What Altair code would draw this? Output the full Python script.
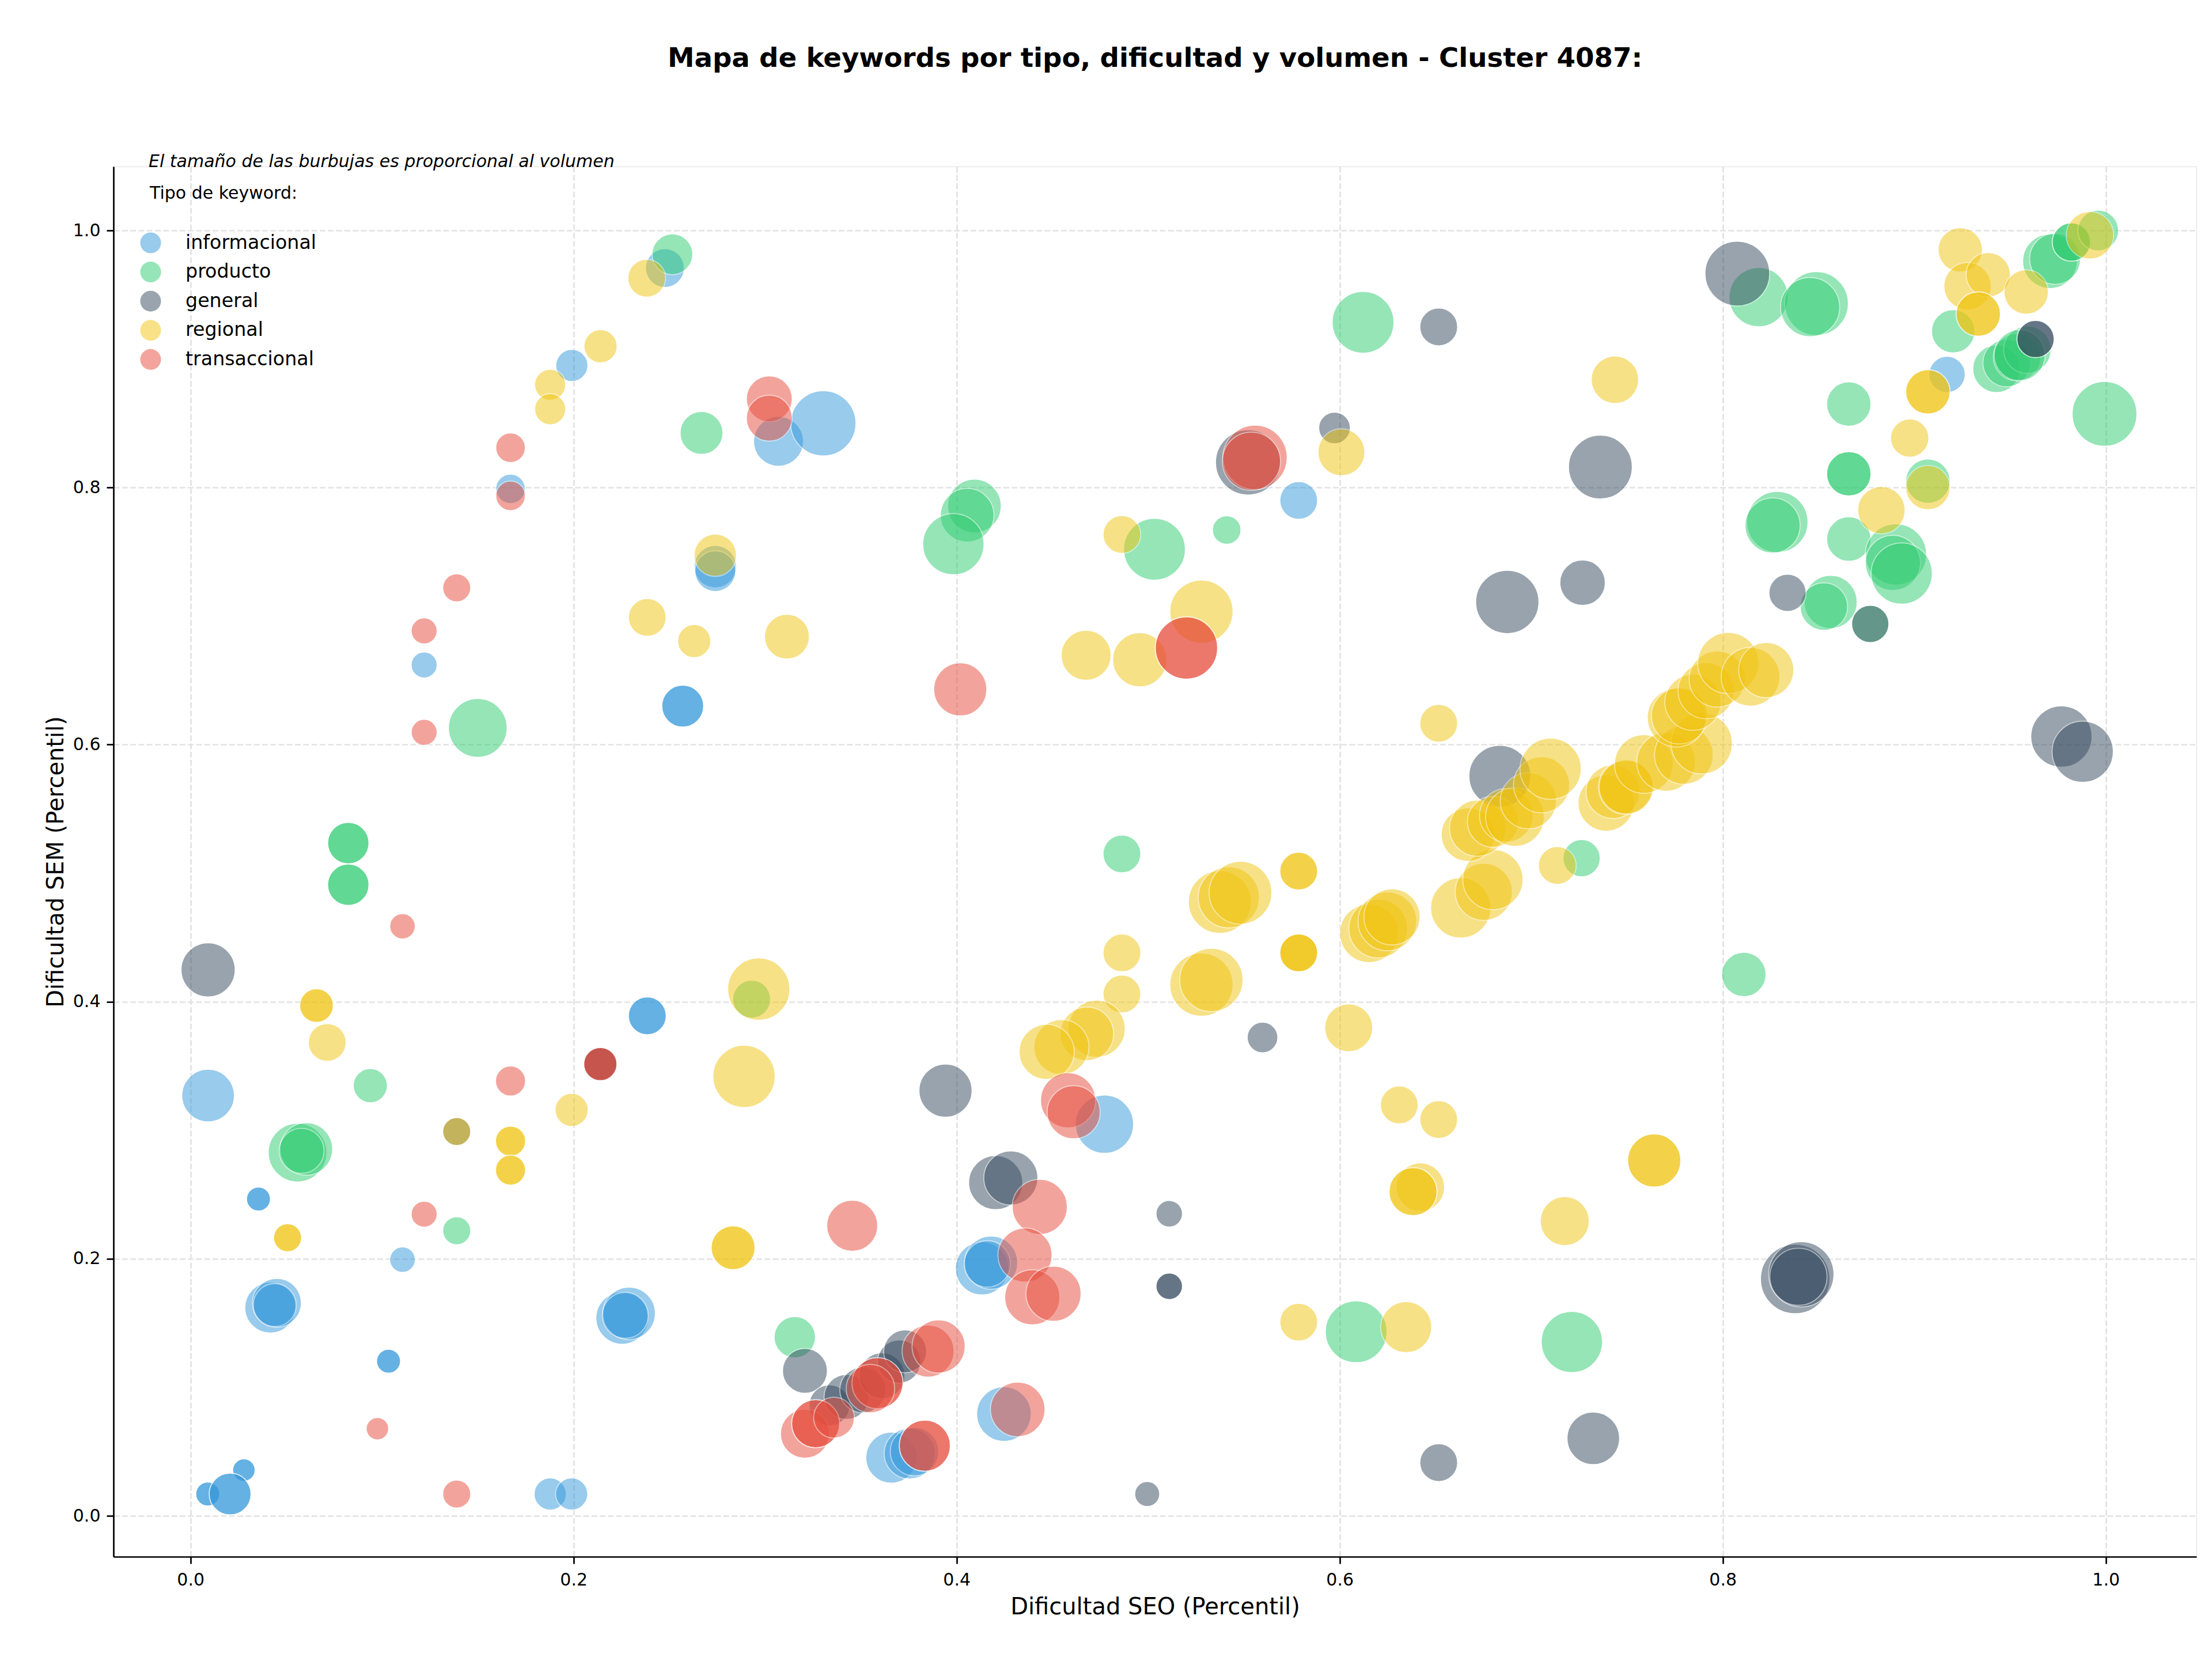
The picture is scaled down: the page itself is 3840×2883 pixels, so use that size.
import altair as alt
import pandas as pd

FONT = "DejaVu Sans"

TITULO = "Mapa de keywords por tipo, dificultad y volumen - Cluster 4087:"
NOTA = "El tamaño de las burbujas es proporcional al volumen"
EJE_X = "Dificultad SEO (Percentil)"
EJE_Y = "Dificultad SEM (Percentil)"
TICKS = [0.0, 0.2, 0.4, 0.6, 0.8, 1.0]

TIPOS = ["informacional", "producto", "general", "regional", "transaccional"]
COLORES = ["#3498db", "#2ecc71", "#34495e", "#f1c40f", "#e74c3c"]

# --- informacional ---
info_seo = [0.2477, 0.1991, 0.1671, 0.122, 0.307, 0.3304, 0.274, 0.274, 0.257, 0.257, 0.5786,
            0.2385, 0.2385, 0.0092, 0.0355, 0.0355, 0.1107, 0.0417, 0.0451, 0.044, 0.2254, 0.229, 0.227,
            0.1034, 0.1034, 0.0279, 0.0279, 0.009, 0.009, 0.0207, 0.0207, 0.1878, 0.199,
            0.4772, 0.4132, 0.418, 0.416, 0.4247, 0.3659, 0.3755, 0.378, 0.9171]
info_sem = [0.9708, 0.895, 0.799, 0.662, 0.836, 0.850, 0.7385, 0.735, 0.630, 0.630, 0.790,
            0.389, 0.389, 0.327, 0.2465, 0.2465, 0.1993, 0.162, 0.1657, 0.164, 0.1539, 0.1575, 0.156,
            0.1203, 0.1203, 0.0356, 0.0356, 0.017, 0.017, 0.017, 0.017, 0.017, 0.017,
            0.3047, 0.1925, 0.197, 0.196, 0.0792, 0.0453, 0.0485, 0.050, 0.888]
info_vol = [289, 198, 168, 130, 480, 819, 344, 320, 336, 336, 274,
            274, 274, 530, 110, 110, 125, 500, 461, 353, 530, 530, 405,
            110, 110, 97, 97, 110, 110, 336, 336, 198, 198,
            650, 541, 541, 414, 572, 500, 500, 451, 252]

# --- producto ---
prod_seo = [0.2516, 0.2668, 0.150, 0.0824, 0.0824, 0.0824, 0.0824, 0.0939, 0.293, 0.139, 0.0559, 0.0605, 0.058,
            0.6122, 0.541, 0.5033, 0.4093, 0.4055, 0.3983, 0.4863, 0.3155, 0.6086,
            0.8187, 0.8489, 0.8456, 0.8658, 0.8658, 0.8658, 0.9071, 0.8285, 0.826, 0.8658, 0.8904, 0.8888,
            0.8934, 0.8563, 0.8528, 0.877,
            0.9203, 0.9429, 0.9482, 0.9536, 0.959, 0.955, 0.9708, 0.9735, 0.982, 0.982, 0.996, 0.9993,
            0.7263, 0.811, 0.7212]
prod_sem = [0.9815, 0.8425, 0.613, 0.5234, 0.5234, 0.491, 0.491, 0.3347, 0.402, 0.2218, 0.2826, 0.2854, 0.284,
            0.9286, 0.767, 0.752, 0.7857, 0.7785, 0.756, 0.515, 0.139, 0.1432,
            0.9482, 0.9432, 0.9404, 0.865, 0.8107, 0.8107, 0.805, 0.7732, 0.7705, 0.760, 0.748, 0.7414,
            0.7331, 0.711, 0.7074, 0.6939,
            0.9216, 0.8924, 0.8969, 0.9014, 0.9073, 0.903, 0.9761, 0.978, 0.991, 0.991, 1.0, 0.8573,
            0.5117, 0.4212, 0.1353]
prod_vol = [320, 353, 661, 328, 328, 328, 328, 224, 274, 151, 661, 530, 387,
            732, 157, 732, 551, 551, 720, 274, 328, 732,
            673, 781, 673, 378, 378, 378, 378, 720, 583, 378, 720, 583,
            720, 541, 432, 266,
            361, 432, 432, 432, 432, 500, 572, 500, 281, 281, 320, 806,
            266, 378, 720]

# --- general ---
gen_seo = [0.0092, 0.139, 0.214, 0.214, 0.5522, 0.5973, 0.6517, 0.6875, 0.6836, 0.3942, 0.4204, 0.4283,
           0.511, 0.511, 0.511, 0.5597, 0.6517, 0.4995, 0.7324, 0.8378, 0.841, 0.8395, 0.8076, 0.7361,
           0.7268, 0.8338, 0.877, 0.9633, 0.9633, 0.9768, 0.9879, 0.3208, 0.3336, 0.3425, 0.351, 0.361,
           0.370, 0.3731]
gen_sem = [0.4248, 0.299, 0.3515, 0.3515, 0.8196, 0.8464, 0.925, 0.711, 0.5755, 0.3308, 0.2593, 0.2629,
           0.235, 0.1786, 0.1786, 0.3722, 0.0414, 0.017, 0.0603, 0.1843, 0.1879, 0.186, 0.9665, 0.816,
           0.726, 0.7181, 0.6939, 0.9156, 0.9156, 0.6063, 0.5945, 0.1128, 0.086, 0.0925, 0.098, 0.109,
           0.12, 0.128]
gen_vol = [562, 151, 211, 211, 819, 192, 274, 769, 732, 541, 562, 562,
           135, 135, 135, 180, 274, 120, 530, 925, 819, 627, 806, 781,
           396, 266, 266, 266, 266, 720, 720, 387, 320, 387, 405, 405,
           361, 353]

# --- regional ---
reg_seo = [0.2382, 0.2141, 0.1878, 0.1878, 0.274, 0.2385, 0.263, 0.3114, 0.0658, 0.0658, 0.0714, 0.139,
           0.1671, 0.1671, 0.1671, 0.1671, 0.2967, 0.289, 0.199, 0.2833, 0.2833, 0.0507, 0.0507,
           0.4863, 0.6009, 0.5278, 0.4676, 0.4956, 0.6517, 0.7437,
           0.5374, 0.5421, 0.5482, 0.5786, 0.5786, 0.4863, 0.5786, 0.5786, 0.5786, 0.4863, 0.5278, 0.533,
           0.4731, 0.468, 0.4547, 0.447, 0.6047, 0.6311, 0.6517, 0.6421, 0.6383, 0.6383, 0.5786, 0.6347,
           0.6153, 0.6201, 0.6249, 0.6273, 0.6632, 0.6752, 0.680,
           0.7642, 0.7642, 0.7175, 0.7136,
           0.667, 0.672, 0.680, 0.687, 0.6915, 0.6985, 0.7054, 0.7101, 0.7391, 0.7426, 0.7495, 0.7495,
           0.7588, 0.7704, 0.7797, 0.789, 0.7759, 0.7774, 0.7844, 0.7913, 0.7971, 0.8029, 0.8145, 0.8227,
           0.8976, 0.9071, 0.9071, 0.9071, 0.8828, 0.924, 0.9278, 0.9386, 0.9584, 0.9334, 0.9334, 0.9917]
reg_sem = [0.9629, 0.91, 0.880, 0.861, 0.7474, 0.699, 0.6806, 0.684, 0.397, 0.397, 0.3683, 0.299,
           0.2915, 0.2915, 0.269, 0.269, 0.4098, 0.3419, 0.3158, 0.2086, 0.2086, 0.2164, 0.2164,
           0.7635, 0.8275, 0.7035, 0.6695, 0.666, 0.6166, 0.8839,
           0.4776, 0.4812, 0.4848, 0.5016, 0.5016, 0.438, 0.438, 0.438, 0.438, 0.406, 0.4133, 0.4169,
           0.379, 0.375, 0.3647, 0.361, 0.3797, 0.3197, 0.3083, 0.2557, 0.2522, 0.2522, 0.1507, 0.1468,
           0.4533, 0.4569, 0.4625, 0.466, 0.473, 0.4855, 0.495,
           0.2765, 0.2765, 0.2293, 0.506,
           0.530, 0.535, 0.540, 0.545, 0.5437, 0.5563, 0.5688, 0.5813, 0.5545, 0.5634, 0.567, 0.567,
           0.5849, 0.5866, 0.592, 0.601, 0.621, 0.6224, 0.633, 0.642, 0.651, 0.6635, 0.6528, 0.658,
           0.8385, 0.8745, 0.8745, 0.80, 0.7824, 0.985, 0.9567, 0.9656, 0.9522, 0.935, 0.935, 0.9963]
reg_vol = [274, 211, 186, 186, 344, 274, 211, 387, 218, 218, 274, 151,
           174, 174, 174, 174, 744, 744, 211, 370, 370, 151, 151,
           274, 423, 769, 480, 562, 274, 432,
           756, 720, 756, 274, 274, 274, 274, 274, 274, 274, 769, 769,
           627, 551, 583, 583, 442, 274, 274, 451, 442, 442, 274, 500,
           661, 661, 661, 605, 696, 627, 696,
           541, 541, 461, 274,
           551, 605, 500, 551, 661, 605, 605, 720, 605, 551, 583, 551,
           661, 661, 661, 720, 661, 605, 605, 605, 605, 720, 661, 583,
           281, 378, 378, 378, 432, 378, 432, 378, 378, 378, 378, 432]

# --- transaccional ---
trans_seo = [0.1671, 0.1671, 0.139, 0.122, 0.122, 0.3022, 0.3022, 0.1107, 0.1671, 0.214, 0.214, 0.122,
             0.0976, 0.139,
             0.5558, 0.5539, 0.520, 0.520, 0.4019, 0.4582, 0.4611, 0.3455, 0.4434, 0.4357, 0.4395, 0.4506,
             0.4319, 0.3834, 0.3834,
             0.3208, 0.3264, 0.3264, 0.336, 0.3587, 0.3587, 0.355, 0.3851, 0.3906]
trans_sem = [0.831, 0.7936, 0.722, 0.6885, 0.6096, 0.869, 0.854, 0.4587, 0.3383, 0.3515, 0.3515, 0.2347,
             0.0678, 0.017,
             0.8235, 0.8205, 0.6752, 0.6752, 0.643, 0.3233, 0.314, 0.2257, 0.2404, 0.2029, 0.170, 0.1728,
             0.0828, 0.0546, 0.0546,
             0.0639, 0.0717, 0.0717, 0.0764, 0.1032, 0.1032, 0.099, 0.1282, 0.1318]
trans_vol = [168, 168, 151, 130, 130, 405, 405, 125, 174, 211, 211, 130,
             97, 151,
             794, 650, 744, 744, 541, 583, 541, 500, 583, 562, 583, 583,
             572, 500, 500,
             461, 442, 442, 320, 500, 500, 451, 520, 541]

series = [
    ("informacional", info_seo, info_sem, info_vol),
    ("producto", prod_seo, prod_sem, prod_vol),
    ("general", gen_seo, gen_sem, gen_vol),
    ("regional", reg_seo, reg_sem, reg_vol),
    ("transaccional", trans_seo, trans_sem, trans_vol),
]
rows = []
for tipo, seo, sem, vol in series:
    for a, b, c in zip(seo, sem, vol):
        rows.append({"tipo": tipo, "seo": a, "sem": b, "volumen": c})
df = pd.DataFrame(rows)

W, H = 3616, 2413


def eje(titulo, **extra):
    return alt.Axis(
        values=TICKS, format=".1f", title=titulo,
        titleFont=FONT, titleFontSize=40, titleFontWeight="normal", titleColor="black",
        labelFont=FONT, labelFontSize=30, labelColor="black", labelFlush=False,
        tickSize=12, tickWidth=2.7, tickColor="black",
        domainColor="black", domainWidth=2.7,
        grid=True, gridColor="#e2e2e2", gridDash=[10, 4.3], gridWidth=2.7,
        **extra,
    )


burbujas = alt.Chart(df).mark_circle(opacity=0.5, stroke="white", strokeWidth=1.7).encode(
    x=alt.X("seo:Q", scale=alt.Scale(domain=[-0.0402, 1.0473], nice=False, zero=False),
            axis=eje(EJE_X, labelPadding=13, titlePadding=12)),
    y=alt.Y("sem:Q", scale=alt.Scale(domain=[-0.0318, 1.0498], nice=False, zero=False),
            axis=eje(EJE_Y, labelPadding=11, titlePadding=9)),
    size=alt.Size("volumen:Q", scale=alt.Scale(domain=[0, 1000], range=[0, 15708]), legend=None),
    color=alt.Color(
        "tipo:N",
        scale=alt.Scale(domain=TIPOS, range=COLORES),
        legend=alt.Legend(
            title="Tipo de keyword:", orient="none", legendX=63, legendY=32, padding=0,
            titleFont=FONT, titleFontSize=30, titleFontWeight="normal", titleColor="black",
            titleAnchor="start", titlePadding=52, titleLimit=2000,
            labelFont=FONT, labelFontSize=33.3, labelColor="black", labelOffset=42, labelLimit=2000,
            symbolType="circle", symbolSize=1300, symbolOpacity=0.5, symbolStrokeWidth=0,
            symbolOffset=-17, rowPadding=13.6,
        ),
    ),
)

nota = alt.Chart(pd.DataFrame({"texto": [NOTA]})).mark_text(
    align="left", baseline="alphabetic", font=FONT, fontSize=30, fontStyle="italic", color="black"
).encode(x=alt.value(61), y=alt.value(1), text="texto:N")

chart = alt.layer(burbujas, nota).properties(
    width=W, height=H,
    title=alt.TitleParams(
        text=TITULO, font=FONT, fontSize=46.7, fontWeight="bold", color="black",
        anchor="middle", frame="group", baseline="alphabetic", offset=103,
    ),
    autosize=alt.AutoSizeParams(type="none"),
    padding={"left": 197, "top": 289, "right": 27, "bottom": 181},
).configure_view(stroke=None).configure(background="white")

chart.save("out.html", embed_options={"renderer": "svg", "actions": False})
